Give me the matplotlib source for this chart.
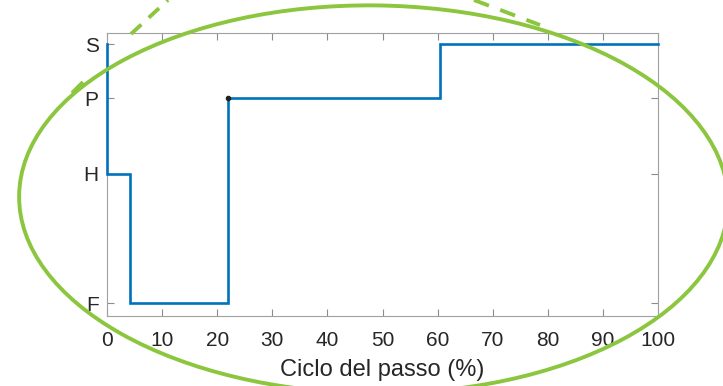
import matplotlib.pyplot as plt
from matplotlib.patches import Ellipse
import numpy as np

plt.rcParams['font.family'] = ['Liberation Sans', 'DejaVu Sans']

# gait phases: start/end of each phase (% of cycle) and the level held
phase_edges = [0, 4.2, 22, 60.4, 100]
phase_levels = [2, 1, 3, 4]
level_names = ['F', 'H', 'P', 'S']
level_values = [1, 2, 3, 4]
start_level = 4
x_ticks = [0, 10, 20, 30, 40, 50, 60, 70, 80, 90, 100]

fig = plt.figure(figsize=(7.23, 3.86), dpi=100)
ax = fig.add_axes([107/723, 70/386, 551/723, 283/386])

xs = [phase_edges[0]]
ys = [start_level]
for i, lev in enumerate(phase_levels):
    xs += [phase_edges[i], phase_edges[i+1]]
    ys += [lev, lev]
ax.plot(xs, ys, color='#0072BD', lw=1.9, solid_joinstyle='miter', clip_on=False, zorder=3)
ax.plot(phase_edges[2], phase_levels[2], 'o', color='#222222', ms=3, zorder=4)

ax.set_yscale('log')
ax.set_ylim(0.933, 4.25)
ax.set_xlim(0, 100)
ax.set_yticks(level_values)
ax.set_yticklabels(level_names)
ax.minorticks_off()
ax.set_xticks(x_ticks)
ax.tick_params(direction='in', length=5, width=0.8, color='#8c8c8c',
               labelcolor='#262626', labelsize=15, top=True, right=True)
ax.tick_params(axis='x', pad=11)
ax.tick_params(axis='y', pad=6)
for s in ax.spines.values():
    s.set_color('#a0a0a0')
    s.set_linewidth(0.8)
ax.set_xlabel('Ciclo del passo (%)', fontsize=17, color='#262626', labelpad=6)

# green highlight drawn on top in pixel coordinates
ov = fig.add_axes([0, 0, 1, 1], zorder=5)
ov.set_xlim(0, 723)
ov.set_ylim(386, 0)
ov.axis('off')
ov.patch.set_alpha(0)
green = '#8cc63f'
ov.add_patch(Ellipse((373.6, 199.4), 709, 388, angle=0.6, fill=False, ec=green, lw=2.8))
ov.plot([131, 168], [34, 0], color=green, lw=2.8, dashes=(3.6, 2.6), solid_capstyle='butt')
ov.plot([72, 83], [93, 82], color=green, lw=2.8, solid_capstyle='butt')
ov.plot([474, 540], [0, 25], color=green, lw=2.8, dashes=(4.1, 3.1))

fig.savefig('out.png', dpi=100)
